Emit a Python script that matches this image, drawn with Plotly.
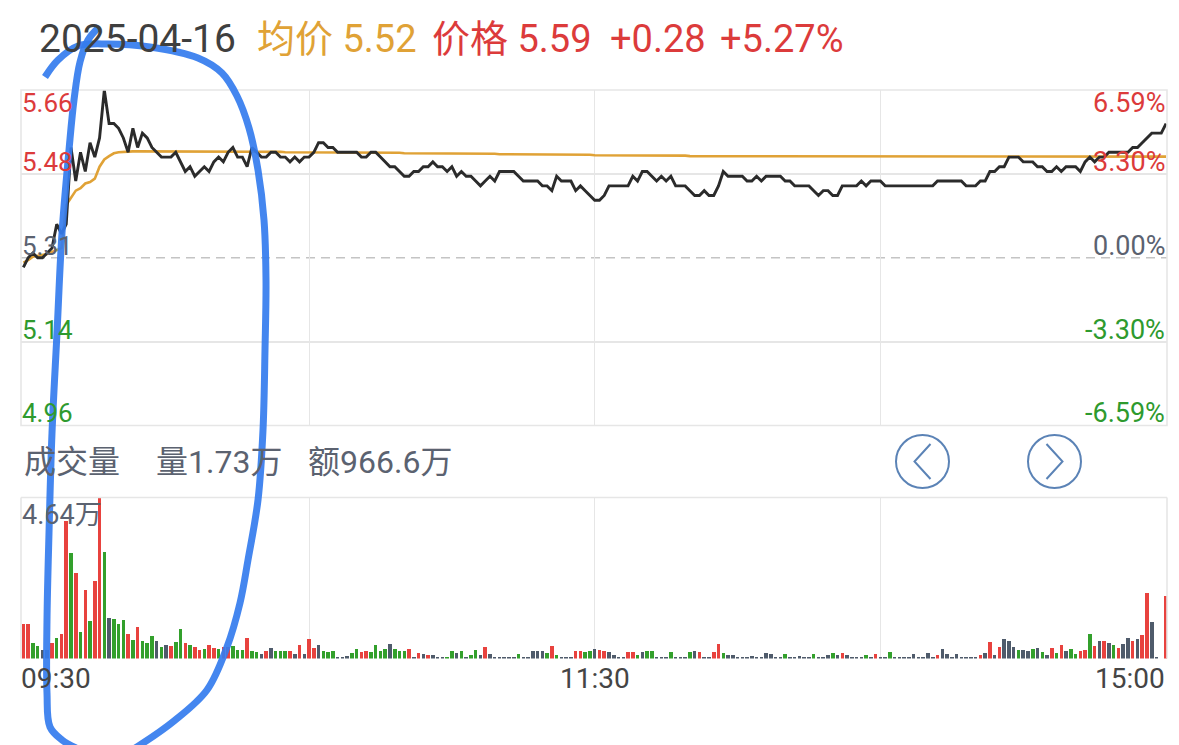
import plotly.graph_objects as go

# ---------------- data ----------------
date_label = "2025-04-16"
pre_close = 5.31
avg_last = "5.52"
price_last = "5.59"
chg = "+0.28"
chg_pct = "+5.27%"
left_labels = ["5.66", "5.48", "5.31", "5.14", "4.96"]
right_labels = ["6.59%", "3.30%", "0.00%", "-3.30%", "-6.59%"]
label_levels = [5.66, 5.485, 5.31, 5.135, 4.96]
time_ticks = ["09:30", "11:30", "15:00"]
vol_header = ["成交量", "量1.73万", "额966.6万"]
vol_max_label = "4.64万"

price = [
    5.29, 5.31, 5.32, 5.31, 5.31, 5.32, 5.33, 5.38, 5.36, 5.38,
    5.54, 5.47, 5.53, 5.49, 5.55, 5.52, 5.56, 5.66, 5.59, 5.59,
    5.58, 5.56, 5.53, 5.58, 5.54, 5.57, 5.56, 5.54, 5.53, 5.52,
    5.52, 5.52, 5.53, 5.51, 5.49, 5.50, 5.48, 5.49, 5.50, 5.49,
    5.51, 5.52, 5.51, 5.53, 5.54, 5.52, 5.52, 5.50, 5.54, 5.53,
    5.52, 5.52, 5.53, 5.53, 5.52, 5.52, 5.51, 5.52, 5.51, 5.52,
    5.52, 5.53, 5.55, 5.55, 5.54, 5.54, 5.53, 5.53, 5.53, 5.53,
    5.53, 5.52, 5.52, 5.53, 5.53, 5.52, 5.51, 5.50, 5.50, 5.49,
    5.48, 5.48, 5.49, 5.49, 5.50, 5.50, 5.51, 5.50, 5.50, 5.49,
    5.50, 5.48, 5.49, 5.48, 5.48, 5.47, 5.46, 5.47, 5.48, 5.47,
    5.49, 5.49, 5.49, 5.49, 5.48, 5.47, 5.47, 5.47, 5.47, 5.46,
    5.46, 5.45, 5.48, 5.47, 5.47, 5.47, 5.45, 5.46, 5.45, 5.44,
    5.43, 5.43, 5.44, 5.46, 5.46, 5.46, 5.46, 5.46, 5.48, 5.47,
    5.49, 5.49, 5.48, 5.47, 5.48, 5.47, 5.48, 5.46, 5.46, 5.46,
    5.45, 5.44, 5.44, 5.45, 5.44, 5.44, 5.46, 5.49, 5.48, 5.48,
    5.48, 5.48, 5.47, 5.47, 5.48, 5.47, 5.48, 5.48, 5.48, 5.48,
    5.47, 5.47, 5.46, 5.46, 5.46, 5.46, 5.45, 5.44, 5.45, 5.45,
    5.44, 5.44, 5.46, 5.46, 5.46, 5.46, 5.47, 5.46, 5.47, 5.47,
    5.47, 5.46, 5.46, 5.46, 5.46, 5.46, 5.46, 5.46, 5.46, 5.46,
    5.46, 5.46, 5.47, 5.47, 5.47, 5.47, 5.47, 5.47, 5.46, 5.46,
    5.46, 5.47, 5.47, 5.49, 5.49, 5.50, 5.50, 5.52, 5.52, 5.52,
    5.51, 5.51, 5.51, 5.50, 5.50, 5.49, 5.49, 5.50, 5.49, 5.50,
    5.50, 5.50, 5.49, 5.51, 5.52, 5.51, 5.52, 5.52, 5.53, 5.53,
    5.53, 5.53, 5.53, 5.54, 5.54, 5.55, 5.56, 5.57, 5.57, 5.57,
    5.59,
]

avg_price = [
    5.300, 5.305, 5.312, 5.314, 5.316, 5.318, 5.322, 5.326, 5.330, 5.420,
    5.435, 5.450, 5.455, 5.465, 5.468, 5.475, 5.500, 5.515, 5.522, 5.528,
    5.530, 5.531, 5.531, 5.532, 5.532, 5.532, 5.532, 5.532, 5.532, 5.532,
    5.532, 5.532, 5.532, 5.532, 5.532, 5.532, 5.532, 5.532, 5.532, 5.532,
    5.531, 5.531, 5.531, 5.531, 5.531, 5.531, 5.531, 5.531, 5.531, 5.531,
    5.531, 5.531, 5.531, 5.531, 5.531, 5.530, 5.530, 5.530, 5.530, 5.530,
    5.530, 5.530, 5.530, 5.530, 5.530, 5.530, 5.530, 5.530, 5.530, 5.530,
    5.529, 5.529, 5.529, 5.529, 5.529, 5.529, 5.529, 5.529, 5.529, 5.529,
    5.528, 5.528, 5.528, 5.528, 5.528, 5.528, 5.528, 5.528, 5.528, 5.528,
    5.527, 5.527, 5.527, 5.527, 5.527, 5.527, 5.527, 5.527, 5.527, 5.527,
    5.526, 5.526, 5.526, 5.526, 5.526, 5.526, 5.526, 5.526, 5.526, 5.526,
    5.525, 5.525, 5.525, 5.525, 5.525, 5.525, 5.525, 5.525, 5.525, 5.525,
    5.524, 5.524, 5.524, 5.524, 5.524, 5.524, 5.524, 5.524, 5.524, 5.524,
    5.523, 5.523, 5.523, 5.523, 5.523, 5.523, 5.523, 5.523, 5.523, 5.523,
    5.522, 5.522, 5.522, 5.522, 5.522, 5.522, 5.522, 5.522, 5.522, 5.522,
    5.521, 5.521, 5.521, 5.521, 5.521, 5.521, 5.521, 5.521, 5.521, 5.521,
    5.521, 5.521, 5.521, 5.521, 5.521, 5.521, 5.521, 5.521, 5.521, 5.521,
    5.521, 5.521, 5.521, 5.521, 5.521, 5.521, 5.521, 5.521, 5.521, 5.521,
    5.521, 5.521, 5.521, 5.521, 5.521, 5.521, 5.521, 5.521, 5.521, 5.521,
    5.521, 5.521, 5.521, 5.521, 5.521, 5.521, 5.521, 5.521, 5.521, 5.521,
    5.521, 5.521, 5.521, 5.521, 5.521, 5.521, 5.521, 5.521, 5.521, 5.521,
    5.521, 5.521, 5.521, 5.521, 5.521, 5.521, 5.521, 5.521, 5.521, 5.521,
    5.521, 5.521, 5.521, 5.521, 5.521, 5.521, 5.521, 5.521, 5.521, 5.521,
    5.521, 5.521, 5.521, 5.521, 5.521, 5.521, 5.521, 5.521, 5.521, 5.521,
    5.521,
]

volume = [
    10170, 10170, 4700, 3750, 2500, 2500, 4700, 6140, 7100, 39760,
    30460, 24700, 7780, 19800, 10950, 22480, 46400, 30840, 11900, 11440,
    10170, 11240, 7100, 5380, 9310, 5100, 4510, 6630, 5100, 3550,
    4130, 3650, 5000, 8650, 4510, 4130, 3550, 2500, 3000, 3940,
    3070, 2880, 3550, 3550, 3750, 2500, 2500, 6140, 2300, 2110,
    1440, 2210, 3260, 2210, 2210, 2210, 2210, 1440, 4030, 1440,
    5670, 3260, 4130, 2210, 1920, 2210, 480, 480, 770, 1630,
    2880, 1920, 2400, 1920, 4130, 2400, 2880, 4320, 2880, 2450,
    2450, 2900, 600, 1800, 1500, 1210, 1150, 400, 400, 400,
    2250, 1640, 2450, 400, 1210, 2700, 1210, 3600, 1500, 400,
    400, 400, 400, 400, 1500, 400, 400, 2250, 2250, 2250,
    1830, 3800, 1210, 400, 400, 500, 2250, 2250, 1960, 2250,
    2940, 2680, 2450, 1960, 1150, 400, 400, 2100, 2100, 1150,
    1960, 2250, 2450, 400, 400, 400, 1960, 400, 400, 400,
    1960, 2250, 1960, 400, 400, 1960, 4380, 1800, 1150, 1150,
    400, 400, 400, 1000, 400, 400, 1640, 1440, 400, 400,
    1440, 400, 400, 960, 400, 400, 1440, 400, 400, 1150,
    1640, 1150, 1830, 1150, 400, 400, 400, 1150, 400, 1440,
    300, 400, 2100, 400, 400, 400, 400, 1440, 400, 400,
    1640, 400, 1150, 2900, 1440, 400, 1440, 400, 400, 400,
    400, 1150, 1830, 4800, 1150, 3500, 5700, 5130, 3500, 2680,
    2680, 2400, 2950, 3100, 2100, 1150, 3100, 1830, 3990, 2200,
    2900, 1440, 2200, 2680, 7250, 3800, 5130, 5130, 4600, 3990,
    3300, 4400, 6100, 5130, 5900, 7000, 18900, 10700, 300, 0,
    18200,
]

# r = up, g = down, n = unchanged
vol_dir = list(
    "rrggnnrgrr" "grgrgrrgng" "ggrgrgggng" "nrggrgrrgr"
    "rgrrgggrgg" "nrngggrnrn" "rrngggnnng" "grrggggngg"
    "grnrnrnnng" "gngnggnrnn" "nnnngnnnnn" "grgnnnrrgg"
    "nrrnnnnrrg" "nggnnngnnn" "gnrnnrrgnn" "nnnnnnnnnn"
    "gnnnnngnnn" "gnrnnnngnr" "nngnnnnnnn" "nnrnnnnnnn"
    "nrnrnrnnng" "nngngnrgrn" "ggrrgrnrng" "rnnrnrrnnn"
    "r"
)

n_pts = len(price)
idx = list(range(n_pts))
vidx = list(range(len(volume)))

# ---------------- styling ----------------
W, H = 1179, 745
RED = "#dc3b3b"
GREEN = "#2e9a2e"
GRAYTXT = "#5b6270"
ORANGE = "#e0a236"
GRID = "#e6e6e6"
BAR_COL = {"r": "#e8423e", "g": "#33a02c", "n": "#4f5b6b"}
FONT = "Roboto, 'Noto Sans CJK SC', sans-serif"

PX_L, PX_R = 21, 1167
P_TOP, P_BOT = 90, 425.5
V_TOP, V_BOT = 497.5, 658.5


def fy(py):
    return 1 - py / H


fig = go.Figure()

# price line & avg line
fig.add_trace(go.Scatter(x=idx, y=avg_price, mode="lines",
                         line=dict(color=ORANGE, width=2.6), xaxis="x", yaxis="y",
                         hoverinfo="skip"))
fig.add_trace(go.Scatter(x=idx, y=price, mode="lines",
                         line=dict(color="#2b2b2b", width=2.9), xaxis="x", yaxis="y",
                         hoverinfo="skip"))

# volume bars
fig.add_trace(go.Bar(x=vidx, y=volume, width=0.74,
                     marker=dict(color=[BAR_COL[d] for d in vol_dir[:len(volume)]],
                                 line=dict(width=0)),
                     xaxis="x2", yaxis="y2", hoverinfo="skip", cliponaxis=False))

# hand-drawn blue loop (annotation stroke) on pixel overlay axis
loop_a_x = [45, 58, 78, 108, 150, 198, 222, 237, 249, 258, 264, 266, 265, 263, 258, 248, 240, 227, 207, 174, 140, 118]
loop_a_y = [77, 60, 46, 44, 47, 58, 73, 96, 128, 170, 220, 280, 350, 430, 500, 560, 603, 647, 690, 721, 745, 758]
loop_b_x = [99, 88, 80, 74, 69, 62, 57, 52, 49, 47, 47, 50, 62, 76]
loop_b_y = [27, 40, 62, 100, 150, 233, 333, 433, 533, 620, 693, 727, 740, 748]
for lx, ly in ((loop_a_x, loop_a_y), (loop_b_x, loop_b_y)):
    fig.add_trace(go.Scatter(x=lx, y=ly, mode="lines",
                             line=dict(color="rgba(52,124,238,0.92)", width=7, shape="spline"),
                             xaxis="x3", yaxis="y3", hoverinfo="skip"))

shapes = []
# price panel frame
shapes.append(dict(type="rect", xref="x3", yref="y3", x0=PX_L, x1=PX_R, y0=P_TOP, y1=P_BOT,
                   line=dict(color=GRID, width=1.6), layer="below"))
# volume panel frame (top/left/right)
for x0, y0, x1, y1 in ((PX_L, V_TOP, PX_R, V_TOP), (PX_L, V_TOP, PX_L, V_BOT), (PX_R, V_TOP, PX_R, V_BOT)):
    shapes.append(dict(type="line", xref="x3", yref="y3", x0=x0, x1=x1, y0=y0, y1=y1,
                       line=dict(color=GRID, width=1.6), layer="below"))
# dashed pre-close line
shapes.append(dict(type="line", xref="x domain", yref="y", x0=0, x1=1, y0=pre_close, y1=pre_close,
                   line=dict(color="#c4c4c4", width=1.6, dash="9px,6px"), layer="below"))
# navigation buttons
BTN = "#5b83b6"
for cx, d in ((922.5, -1), (1054.5, 1)):
    shapes.append(dict(type="circle", xref="x3", yref="y3", x0=cx - 26.5, x1=cx + 26.5,
                       y0=461.5 - 26.5, y1=461.5 + 26.5, line=dict(color=BTN, width=2)))
    tip = cx + d * 8
    back = cx - d * 8
    shapes.append(dict(type="path", xref="x3", yref="y3",
                       path=f"M {back},{444} L {tip},{461.5} L {back},{479}",
                       line=dict(color=BTN, width=2)))

annotations = []


def txt(x, y, s, color, size, anchor="left"):
    annotations.append(dict(x=x, y=y, xref="x3", yref="y3", text=s, showarrow=False,
                            xanchor=anchor, yanchor="middle",
                            font=dict(family=FONT, size=size, color=color)))


# header
txt(37, 39, date_label, "#3f3f3f", 39)
txt(255, 39, "均价 " + avg_last, ORANGE, 38)
txt(430, 39, "价格 " + price_last, RED, 38)
txt(608, 39, chg, RED, 38)
txt(718, 39, chg_pct, RED, 38)

# axis labels inside price panel
lab_y = [103, 161.5, 246, 330, 412.5]
lab_col = [RED, RED, GRAYTXT, GREEN, GREEN]
for s, y, c in zip(left_labels, lab_y, lab_col):
    txt(20, y, s, c, 26)
for s, y, c in zip(right_labels, lab_y, lab_col):
    txt(1167, y, s, c, 27, anchor="right")

# volume header
txt(22, 462, vol_header[0], GRAYTXT, 32)
txt(154, 462, vol_header[1], GRAYTXT, 32)
txt(306, 462, vol_header[2], GRAYTXT, 32)
txt(20, 515, vol_max_label, GRAYTXT, 27)

# time labels
txt(19, 678, time_ticks[0], "#454545", 28)
txt(594.5, 678, time_ticks[1], "#454545", 28, anchor="center")
txt(1167, 678, time_ticks[2], "#454545", 28, anchor="right")

xdom = [PX_L / W, PX_R / W]
xrng = [-0.5, 240.2]
fig.update_layout(
    width=W, height=H, margin=dict(l=0, r=0, t=0, b=0),
    paper_bgcolor="white", plot_bgcolor="rgba(0,0,0,0)",
    showlegend=False, bargap=0,
    xaxis=dict(domain=xdom, range=xrng, tickvals=[60, 120, 180], showticklabels=False,
               showgrid=True, gridcolor=GRID, gridwidth=1.4, zeroline=False, anchor="y", ticks=""),
    yaxis=dict(domain=[fy(P_BOT), fy(P_TOP)], range=[4.96, 5.66], tickvals=[5.485, 5.135],
               showticklabels=False, showgrid=True, gridcolor=GRID, gridwidth=1.6,
               zeroline=False, anchor="x", ticks=""),
    xaxis2=dict(domain=xdom, range=xrng, tickvals=[60, 120, 180], showticklabels=False,
                showgrid=True, gridcolor=GRID, gridwidth=1.4, zeroline=False, anchor="y2", ticks=""),
    yaxis2=dict(domain=[fy(V_BOT), fy(V_TOP)], range=[0, 46400], showticklabels=False,
                showgrid=False, zeroline=False, anchor="x2", ticks=""),
    xaxis3=dict(domain=[0, 1], range=[0, W], visible=False, anchor="y3", fixedrange=True),
    yaxis3=dict(domain=[0, 1], range=[H, 0], visible=False, anchor="x3", fixedrange=True),
    shapes=shapes, annotations=annotations,
)

fig.write_html("out.html", config={"displayModeBar": False},
               post_script="document.body.style.margin='0px';document.body.style.overflow='hidden';")
